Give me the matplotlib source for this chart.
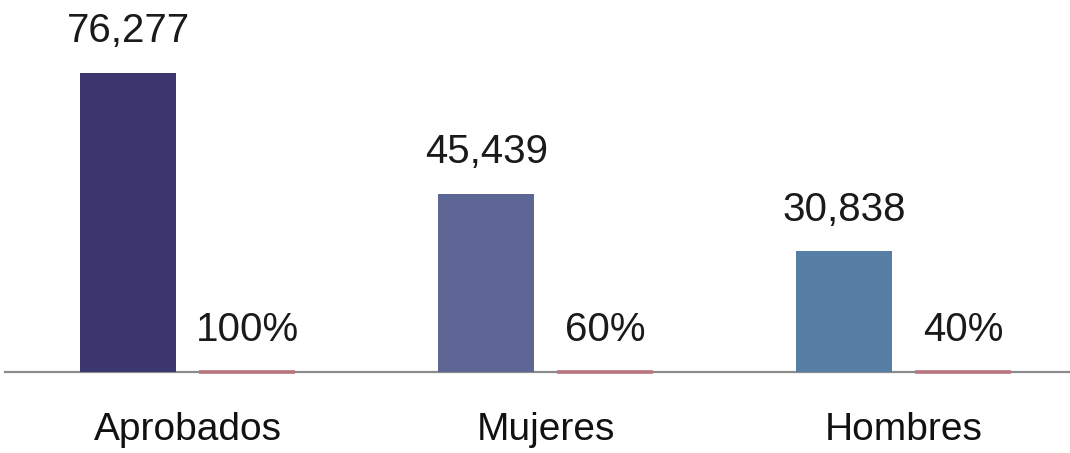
import matplotlib
matplotlib.use("Agg")
import matplotlib.pyplot as plt
import numpy as np

categories = ["Aprobados", "Mujeres", "Hombres"]
counts = [76277, 45439, 30838]
count_labels = ["76,277", "45,439", "30,838"]
pcts = [100, 60, 40]
pct_labels = ["100%", "60%", "40%"]

bar_colors = ["#3c366e", "#5c6594", "#577fa6"]
pct_color = "#e8c4c8"
pct_edge = "#b87580"

plt.rcParams["font.family"] = ["Liberation Sans", "DejaVu Sans"]

fig = plt.figure(figsize=(10.7, 4.53), dpi=100)
ax = fig.add_axes([5 / 1070, 81 / 453, 1065 / 1070, 372 / 453])

x = np.arange(len(categories))
w = 0.27
off = 0.166
ax.bar(x - off, counts, width=w, color=bar_colors, zorder=2)
ax.bar(x + off, pcts, width=w, color=pct_color, edgecolor=pct_edge,
       linewidth=2.6, zorder=4, clip_on=False)

for xi, c, lab in zip(x, counts, count_labels):
    ax.annotate(lab, (xi - off, c), xytext=(0, 22), textcoords="offset points",
                ha="center", va="baseline", fontsize=29, color="#1a1a1a")
for xi, p, lab in zip(x, pcts, pct_labels):
    ax.annotate(lab, (xi + off, p), xytext=(0, 22), textcoords="offset points",
                ha="center", va="baseline", fontsize=29, color="#1a1a1a")

ax.set_xlim(-0.51, 2.465)
ax.set_ylim(0, 76277 * 372 / 299)
ax.set_xticks(x)
ax.set_xticklabels(categories, fontsize=28, color="#111111")
ax.tick_params(axis="x", length=0, pad=29)
ax.set_yticks([])
for s in ["top", "right", "left"]:
    ax.spines[s].set_visible(False)
ax.spines["bottom"].set_color("#8c8c8c")
ax.spines["bottom"].set_linewidth(1.6)
ax.spines["bottom"].set_zorder(1)

fig.savefig("out.png", dpi=100)
